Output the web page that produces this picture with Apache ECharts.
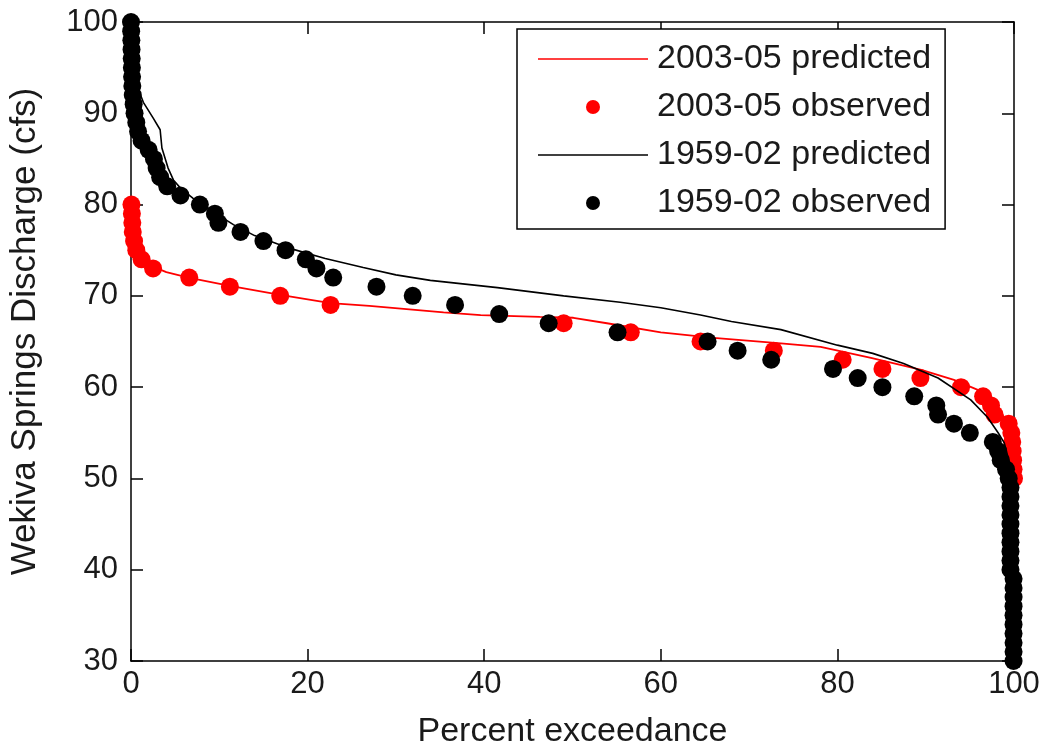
<!DOCTYPE html>
<html>
<head>
<meta charset="utf-8">
<script src="https://cdn.jsdelivr.net/npm/echarts@6/dist/echarts.min.js"></script>
<style>
html,body{margin:0;padding:0;background:#fff;}
#c{width:1049px;height:754px;}
</style>
</head>
<body>
<div id="c"></div>
<script>
// ---- data (percent exceedance, discharge cfs) ----
const seriesNames = ['2003-05 predicted', '2003-05 observed', '1959-02 predicted', '1959-02 observed'];
const xTickValues = [0, 20, 40, 60, 80, 100];
const yTickValues = [30, 40, 50, 60, 70, 80, 90, 100];

const pred2003 = [
  [0, 80], [0.3, 77], [0.7, 75], [1.5, 74], [2.5, 73.2], [4, 72.6], [6.5, 72.0],
  [11.2, 71.1], [16.9, 70.1], [22.6, 69.2], [27, 68.9], [35.4, 68.2], [39.6, 67.9],
  [46.3, 67.7], [50.1, 67.6], [53.9, 67.0], [60, 66.0], [66, 65.4], [73.6, 64.8],
  [78.1, 64.4], [83.8, 63.2], [89.5, 61.9], [93.2, 60.8], [95.9, 59.7], [98.2, 57.8],
  [99.7, 55.3], [100, 49.8]
];
const obs2003 = [
  [0.05, 80], [0.1, 79], [0.15, 78], [0.2, 77], [0.35, 76], [0.6, 75], [1.2, 74],
  [2.5, 73], [6.6, 72], [11.2, 71], [16.9, 70], [22.6, 69], [49.0, 67], [56.6, 66],
  [64.5, 65], [72.8, 64], [80.6, 63], [85.1, 62], [89.4, 61], [94.0, 60], [96.5, 59],
  [97.4, 58], [97.8, 57], [99.4, 56], [99.7, 55], [99.8, 54], [99.85, 53], [99.9, 52],
  [99.95, 51], [100, 50]
];
const pred1959 = [
  [0, 100], [0.3, 96], [0.6, 93.5], [1.0, 92.2], [1.4, 91.2], [2.5, 89.5], [3.3, 88.2],
  [3.5, 86.2], [4.2, 84.0], [4.8, 82.7], [5.6, 81.8], [7.0, 80.7], [9.3, 79.2],
  [11.6, 77.8], [14, 76.6], [18, 75.2], [22, 74.1], [26.3, 73.1], [30, 72.3],
  [33.9, 71.7], [41.5, 70.9], [49, 70.0], [55.4, 69.3], [60, 68.7], [64.5, 67.9],
  [68, 67.2], [73.6, 66.3], [80, 64.6], [84, 63.7], [87.5, 62.6], [91.4, 61.0],
  [95.1, 58.6], [97.0, 56.7], [98.2, 55.0], [98.9, 53.9], [99.7, 50.9], [100, 47]
];
const obs1959 = [
  [0, 100], [0.02, 99], [0.04, 98], [0.06, 97], [0.08, 96], [0.1, 95], [0.12, 94],
  [0.15, 93], [0.2, 92], [0.3, 91], [0.4, 90], [0.6, 89], [0.8, 88], [1.2, 87],
  [2.0, 86], [2.6, 85], [2.9, 84], [3.3, 83], [4.1, 82], [5.6, 81], [7.8, 80],
  [9.5, 79], [9.9, 78], [12.4, 77], [15.0, 76], [17.5, 75], [19.8, 74], [21.0, 73],
  [22.9, 72], [27.8, 71], [31.9, 70], [36.7, 69], [41.7, 68], [47.3, 67], [55.1, 66],
  [65.3, 65], [68.7, 64], [72.5, 63], [79.5, 62], [82.3, 61], [85.1, 60], [88.7, 59],
  [91.2, 58], [91.4, 57], [93.2, 56], [95.0, 55], [97.6, 54], [98.2, 53], [98.5, 52],
  [99.1, 51], [99.4, 50], [99.6, 49], [99.6, 48], [99.6, 47], [99.6, 46], [99.6, 45],
  [99.6, 44], [99.6, 43], [99.6, 42], [99.6, 41], [99.6, 40], [99.95, 39], [99.95, 38],
  [99.95, 37], [99.95, 36], [99.95, 35], [99.95, 34], [99.95, 33], [99.95, 32],
  [99.95, 31], [99.95, 30]
];

const FONT = '"Liberation Sans", Arial, Helvetica, sans-serif';
const xMin = xTickValues[0], xMax = xTickValues[xTickValues.length - 1];
const yMin = yTickValues[0], yMax = yTickValues[yTickValues.length - 1];

const axisCommon = {
  axisLine: { show: true, onZero: false, lineStyle: { color: '#000', width: 1.5 } },
  axisTick: { show: true, inside: true, length: 12, lineStyle: { color: '#000', width: 1.5 } },
  splitLine: { show: false }
};

const chart = echarts.init(document.getElementById('c'));
chart.setOption({
  animation: false,
  backgroundColor: '#fff',
  textStyle: { fontFamily: FONT },
  grid: { left: 131, right: 35, top: 22, bottom: 93, containLabel: false },
  xAxis: [
    Object.assign({
      type: 'value', min: xMin, max: xMax, interval: 20, position: 'bottom',
      name: 'Percent exceedance', nameLocation: 'middle', nameGap: 54,
      nameTextStyle: { fontSize: 34, color: '#1a1a1a', fontFamily: FONT },
      axisLabel: { fontSize: 31, color: '#1a1a1a', margin: 8, fontFamily: FONT }
    }, axisCommon),
    Object.assign({
      type: 'value', min: xMin, max: xMax, interval: 20, position: 'top',
      axisLabel: { show: false }
    }, axisCommon)
  ],
  yAxis: [
    Object.assign({
      type: 'value', min: yMin, max: yMax, interval: 10, position: 'left',
      name: 'Wekiva Springs Discharge (cfs)', nameLocation: 'middle', nameGap: 88,
      nameTextStyle: { fontSize: 35, color: '#1a1a1a', fontFamily: FONT, padding: [0, 0, 0, 20] },
      axisLabel: { fontSize: 31, color: '#1a1a1a', margin: 13, fontFamily: FONT }
    }, axisCommon),
    Object.assign({
      type: 'value', min: yMin, max: yMax, interval: 10, position: 'right',
      axisLabel: { show: false }
    }, axisCommon)
  ],
  legend: {
    orient: 'vertical', left: 517, top: 29,
    padding: [13, 14, 9, 21],
    itemWidth: 110, itemHeight: 14, itemGap: 14,
    borderColor: '#000', borderWidth: 1.5, backgroundColor: '#fff',
    textStyle: { fontSize: 34, color: '#1a1a1a', fontFamily: FONT, lineHeight: 34, padding: [0, 0, 0, 4] },
    data: [
      { name: seriesNames[0], icon: 'path://M0,0L100,0L100,1.4L0,1.4Z' },
      { name: seriesNames[1], icon: 'circle' },
      { name: seriesNames[2], icon: 'path://M0,0L100,0L100,1.4L0,1.4Z' },
      { name: seriesNames[3], icon: 'circle' }
    ]
  },
  series: [
    {
      name: seriesNames[0], type: 'line', data: pred2003, symbol: 'none',
      color: '#ff0000', lineStyle: { color: '#ff0000', width: 1.8 }, z: 2
    },
    {
      name: seriesNames[1], type: 'scatter', data: obs2003, symbol: 'circle', symbolSize: 18,
      color: '#ff0000', itemStyle: { color: '#ff0000', opacity: 1 }, z: 3
    },
    {
      name: seriesNames[2], type: 'line', data: pred1959, symbol: 'none',
      color: '#000000', lineStyle: { color: '#000', width: 1.6 }, z: 4
    },
    {
      name: seriesNames[3], type: 'scatter', data: obs1959, symbol: 'circle', symbolSize: 18,
      color: '#000000', itemStyle: { color: '#000', opacity: 1 }, z: 5
    }
  ]
});
</script>
</body>
</html>
